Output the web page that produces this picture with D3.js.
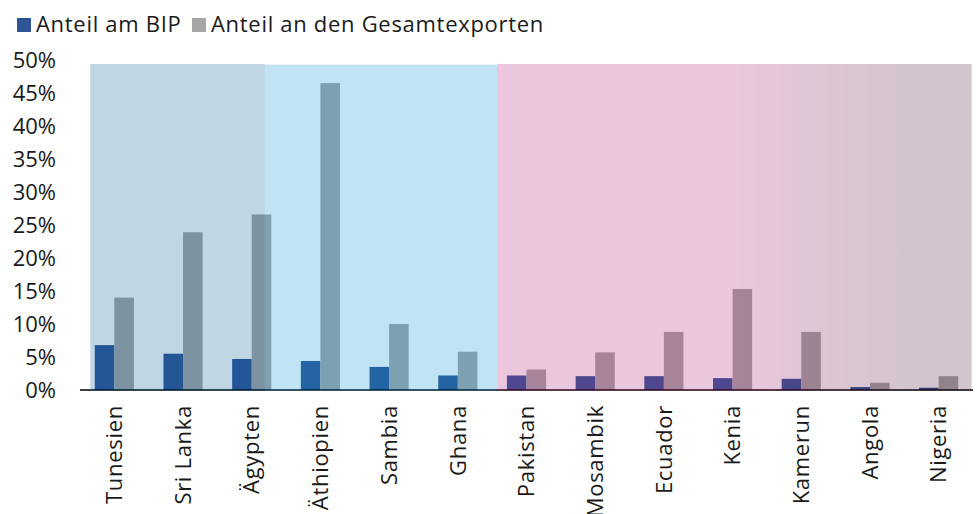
<!DOCTYPE html>
<html>
<head>
<meta charset="utf-8">
<script src="https://cdn.jsdelivr.net/npm/d3@7"></script>
<style>
  body { margin: 0; background: #fff; }
  svg text { font-family: "Open Sans", sans-serif; fill: #1a1a1a; font-size: 22px; letter-spacing: 0.7px; }
</style>
</head>
<body>
<div id="chart"></div>
<script>
var countries = ["Tunesien", "Sri Lanka", "Ägypten", "Äthiopien", "Sambia", "Ghana",
                 "Pakistan", "Mosambik", "Ecuador", "Kenia", "Kamerun", "Angola", "Nigeria"];
var bipShare    = [6.8, 5.5, 4.7, 4.4, 3.5, 2.2, 2.2, 2.1, 2.1, 1.8, 1.7, 0.45, 0.35];
var exportShare = [14.0, 23.9, 26.6, 46.5, 10.0, 5.8, 3.1, 5.7, 8.8, 15.3, 8.8, 1.1, 2.1];
var seriesNames = ["Anteil am BIP", "Anteil an den Gesamtexporten"];
var yTicks = [0, 5, 10, 15, 20, 25, 30, 35, 40, 45, 50];

// shaded groups, in category-index units
var groups = [
  { from: 0.15, to: 2.69, top: 49.4, fill: "rgb(4,93,150)" },
  { from: 2.69, to: 6.07, top: 49.3, fill: "rgb(4,148,208)" },
  { from: 6.07, to: 12.98, top: 49.4, fill: "url(#fade)" }
];

var width = 977, height = 514;
var plotLeft = 80, plotRight = 973, plotTop = 60, plotBottom = 390;

var svg = d3.select("#chart").append("svg")
    .attr("width", width).attr("height", height);

var grad = svg.append("defs").append("linearGradient").attr("id", "fade");
grad.append("stop").attr("offset", "0%").attr("stop-color", "rgb(176,32,120)");
grad.append("stop").attr("offset", "47%").attr("stop-color", "rgb(176,32,120)");
grad.append("stop").attr("offset", "85%").attr("stop-color", "rgb(80,24,60)");
grad.append("stop").attr("offset", "100%").attr("stop-color", "rgb(80,24,60)");

var x = d3.scaleBand().domain(countries).range([plotLeft, plotRight])
    .paddingInner(0.43).paddingOuter(0.215);
var x1 = d3.scaleBand().domain(seriesNames).range([0, x.bandwidth()]);
var y = d3.scaleLinear().domain([0, 50]).range([plotBottom, plotTop]);
var color = d3.scaleOrdinal().domain(seriesNames).range(["#2f5597", "#a6a6a6"]);
var step = x.step();

var rows = countries.map(function(c, i) {
  return { name: c, values: [bipShare[i], exportShare[i]] };
});

// bars
var g = svg.append("g").selectAll("g").data(rows).enter().append("g")
    .attr("transform", function(d) { return "translate(" + x(d.name) + ",0)"; });
g.selectAll("rect").data(function(d) {
    return d.values.map(function(v, k) { return { key: seriesNames[k], v: v }; });
  })
  .enter().append("rect")
  .attr("x", function(d) { return x1(d.key); })
  .attr("width", x1.bandwidth())
  .attr("y", function(d) { return y(d.v); })
  .attr("height", function(d) { return plotBottom - y(d.v); })
  .attr("fill", function(d) { return color(d.key); });

// axis line
svg.append("line")
    .attr("x1", plotLeft).attr("x2", plotRight)
    .attr("y1", plotBottom).attr("y2", plotBottom)
    .attr("stroke", "#000").attr("stroke-width", 1.5);

// translucent group shading over everything
svg.append("g").selectAll("rect").data(groups).enter().append("rect")
    .attr("x", function(d) { return plotLeft + d.from * step; })
    .attr("width", function(d) { return (d.to - d.from) * step; })
    .attr("y", function(d) { return y(d.top); })
    .attr("height", function(d) { return plotBottom - y(d.top) + 1; })
    .attr("fill", function(d) { return d.fill; })
    .attr("opacity", 0.25);

// y tick labels
svg.append("g").selectAll("text").data(yTicks).enter().append("text")
    .attr("x", 56).attr("y", function(d) { return y(d); })
    .attr("dy", "0.35em").attr("text-anchor", "end")
    .style("letter-spacing", "0px")
    .text(function(d) { return d + "%"; });

// category labels
svg.append("g").selectAll("text").data(countries).enter().append("text")
    .attr("transform", function(d) {
      return "translate(" + (x(d) + x.bandwidth() / 2) + ",405) rotate(-90)";
    })
    .attr("dy", "0.35em").attr("text-anchor", "end")
    .text(function(d) { return d; });

// legend
var lx = [17, 192];
var leg = svg.append("g").selectAll("g").data(seriesNames).enter().append("g")
    .attr("transform", function(d, i) { return "translate(" + lx[i] + ",0)"; });
leg.append("rect").attr("x", 0).attr("y", 18).attr("width", 14).attr("height", 14)
    .attr("fill", function(d) { return color(d); });
leg.append("text").attr("x", 19).attr("y", 32)
    .text(function(d) { return d; });
</script>
</body>
</html>
